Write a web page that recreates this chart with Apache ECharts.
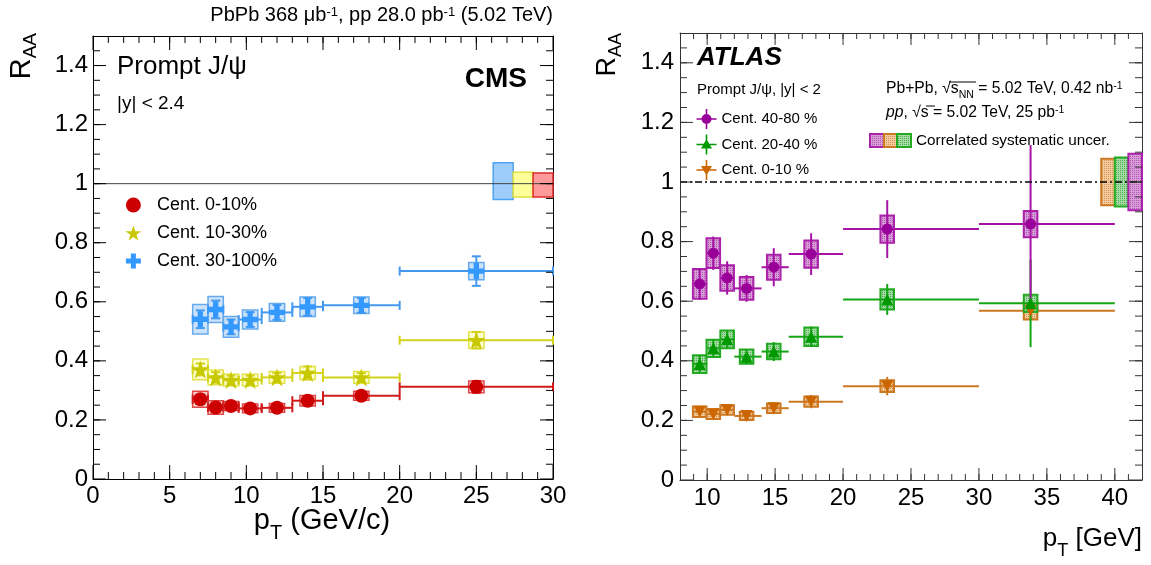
<!DOCTYPE html>
<html>
<head>
<meta charset="utf-8">
<script src="https://cdn.jsdelivr.net/npm/echarts@6/dist/echarts.min.js"></script>
<style>
  html, body { margin: 0; padding: 0; background: #fff; }
  #chart { width: 1151px; height: 565px; }
</style>
</head>
<body>
<div id="chart"></div>
<script>
// ---------- CMS: prompt J/psi R_AA vs pT, |y| < 2.4 ----------
const cmsPt       = [7, 8, 9, 10.25, 12, 14, 17.5, 25];
const cmsBinLow   = [6.5, 7.5, 8.5, 9.5, 11, 13, 15, 20];
const cmsBinHigh  = [7.5, 8.5, 9.5, 11, 13, 15, 20, 30];

const cmsRaa0to10    = [0.270, 0.242, 0.247, 0.239, 0.241, 0.265, 0.282, 0.312];
const cmsStat0to10   = [0.015, 0.013, 0.012, 0.012, 0.012, 0.015, 0.012, 0.020];
const cmsSyst0to10   = [0.027, 0.023, 0.015, 0.015, 0.015, 0.018, 0.015, 0.020];

const cmsRaa10to30   = [0.371, 0.344, 0.335, 0.335, 0.344, 0.359, 0.344, 0.470];
const cmsStat10to30  = [0.020, 0.018, 0.015, 0.015, 0.015, 0.022, 0.015, 0.028];
const cmsSyst10to30  = [0.035, 0.025, 0.020, 0.020, 0.020, 0.022, 0.020, 0.028];

const cmsRaa30to100  = [0.541, 0.574, 0.515, 0.540, 0.564, 0.583, 0.588, 0.704];
const cmsStat30to100 = [0.030, 0.030, 0.025, 0.025, 0.025, 0.030, 0.025, 0.050];
const cmsSyst30to100 = [0.050, 0.044, 0.035, 0.032, 0.030, 0.033, 0.028, 0.029];

// global uncertainty boxes at R_AA = 1 (30-100%, 10-30%, 0-10%)
const cmsGlobalXLow  = [26.1, 27.4, 28.7];
const cmsGlobalXHigh = [27.4, 28.7, 30.0];
const cmsGlobalLow   = [0.946, 0.955, 0.955];
const cmsGlobalHigh  = [1.071, 1.039, 1.036];

const cmsXTicks = [0, 5, 10, 15, 20, 25, 30];

// ---------- ATLAS: prompt J/psi R_AA vs pT, |y| < 2 ----------
const atlasPt      = [9.45, 10.45, 11.47, 12.9, 14.9, 17.65, 23.25, 33.8];
const atlasBinLow  = [9, 10, 11, 12, 14, 16, 20, 30];
const atlasBinHigh = [10, 11, 12, 14, 16, 20, 30, 40];

const atlasRaa40to80  = [0.658, 0.761, 0.678, 0.643, 0.714, 0.758, 0.842, 0.859];
const atlasStat40to80 = [0.053, 0.056, 0.056, 0.045, 0.064, 0.070, 0.097, 0.265];
const atlasSyst40to80 = [0.050, 0.050, 0.043, 0.038, 0.042, 0.046, 0.046, 0.044];

const atlasRaa20to40  = [0.389, 0.442, 0.472, 0.414, 0.431, 0.481, 0.606, 0.593];
const atlasStat20to40 = [0.030, 0.030, 0.030, 0.025, 0.032, 0.034, 0.052, 0.147];
const atlasSyst20to40 = [0.030, 0.029, 0.030, 0.024, 0.026, 0.031, 0.034, 0.029];

const atlasRaa0to10   = [0.229, 0.221, 0.235, 0.215, 0.241, 0.263, 0.315, 0.568];
const atlasStat0to10  = [0.015, 0.015, 0.015, 0.012, 0.020, 0.022, 0.031, 0.030];
const atlasSyst0to10  = [0.018, 0.016, 0.016, 0.014, 0.016, 0.017, 0.020, 0.029];

// correlated uncertainty boxes at R_AA = 1 (0-10%, 20-40%, 40-80%)
const atlasGlobalXLow  = [39, 40, 41];
const atlasGlobalXHigh = [40, 41, 42];
const atlasGlobalLow   = [0.922, 0.918, 0.905];
const atlasGlobalHigh  = [1.078, 1.082, 1.095];

const atlasXTicks = [10, 15, 20, 25, 30, 35, 40];
const raaTicks = [0, 0.2, 0.4, 0.6, 0.8, 1, 1.2, 1.4];
const unity = 1;

// ---------- helpers ----------
const FONT = "'Liberation Sans', Arial, Helvetica, sans-serif";

function starPath() {
  const pts = [];
  for (let k = 0; k < 10; k++) {
    const a = -Math.PI / 2 + k * Math.PI / 5;
    const r = k % 2 === 0 ? 10 : 3.9;
    pts.push((r * Math.cos(a)).toFixed(3) + ',' + (r * Math.sin(a)).toFixed(3));
  }
  return 'path://M' + pts.join('L') + 'Z';
}
const STAR = starPath();
const CROSS = 'path://M-2.5,-7.5H2.5V-2.5H7.5V2.5H2.5V7.5H-2.5V2.5H-7.5V-2.5H-2.5Z';
const BARS = 'M-10,-0.8H10V0.8H-10Z M-0.8,-10H0.8V10H-0.8Z ';
const ICON_CIRCLE = 'path://' + BARS + 'M-5,0A5,5 0 1,1 5,0A5,5 0 1,1 -5,0Z';
const ICON_TRI = 'path://' + BARS + 'M0,-5.5L5.5,4L-5.5,4Z';
const ICON_TRI_DOWN = 'path://' + BARS + 'M-5.5,-4L5.5,-4L0,5.5Z';

// fine cross-hatch fill used for the ATLAS systematic boxes
function hatch(light, dark) {
  const c = document.createElement('canvas');
  c.width = 4; c.height = 4;
  const g = c.getContext('2d');
  g.fillStyle = light; g.fillRect(0, 0, 4, 4);
  g.fillStyle = dark;
  g.fillRect(0, 0, 1, 1); g.fillRect(2, 2, 1, 1);
  g.fillRect(2, 0, 1, 1); g.fillRect(0, 2, 1, 1);
  return { image: c, repeat: 'repeat' };
}
const PURPLE_FILL = hatch('#d89ed8', '#b055b0');
const GREEN_FILL = hatch('#a6daa6', '#4caf4c');
const ORANGE_FILL = hatch('#f2cc9e', '#d99550');

function rows(pt, val, lo, hi, stat, syst) {
  return pt.map((p, i) => [p, val[i], lo[i], hi[i], stat[i], syst[i]]);
}

// stat. error bars (lines) + syst. box for each point
function errorSeries(axis, data, st) {
  return {
    type: 'custom',
    xAxisIndex: axis, yAxisIndex: axis,
    silent: true, z: 2,
    data: data,
    renderItem: function (params, api) {
      const x = api.value(0), y = api.value(1), xl = api.value(2), xh = api.value(3);
      const s = api.value(4), sy = api.value(5), hw = st.boxHalf;
      const c = api.coord([x, y]);
      const l = api.coord([xl, y]);
      const r = api.coord([xh, y]);
      const t = api.coord([x, y + s]);
      const b = api.coord([x, y - s]);
      const b0 = api.coord([x - hw, y + sy]);
      const b1 = api.coord([x + hw, y - sy]);
      const lineStyle = { stroke: st.line, lineWidth: st.lineWidth };
      const children = [
        { type: 'rect', shape: { x: b0[0], y: b0[1], width: b1[0] - b0[0], height: b1[1] - b0[1] },
          style: { fill: st.boxFill, stroke: st.boxStroke, lineWidth: st.boxLine } },
        { type: 'line', shape: { x1: l[0], y1: c[1], x2: r[0], y2: c[1] }, style: lineStyle },
        { type: 'line', shape: { x1: c[0], y1: t[1], x2: c[0], y2: b[1] }, style: lineStyle }
      ];
      if (st.caps) {
        const k = st.caps;
        children.push(
          { type: 'line', shape: { x1: l[0], y1: c[1] - k, x2: l[0], y2: c[1] + k }, style: lineStyle },
          { type: 'line', shape: { x1: r[0], y1: c[1] - k, x2: r[0], y2: c[1] + k }, style: lineStyle },
          { type: 'line', shape: { x1: c[0] - k, y1: t[1], x2: c[0] + k, y2: t[1] }, style: lineStyle },
          { type: 'line', shape: { x1: c[0] - k, y1: b[1], x2: c[0] + k, y2: b[1] }, style: lineStyle }
        );
      }
      return { type: 'group', children: children };
    }
  };
}

function globalSeries(axis, xl, xh, lo, hi, fills, strokes, lw) {
  return {
    type: 'custom',
    xAxisIndex: axis, yAxisIndex: axis,
    silent: true, z: 2,
    data: xl.map((v, i) => [v, xh[i], lo[i], hi[i]]),
    renderItem: function (params, api) {
      const p0 = api.coord([api.value(0), api.value(3)]);
      const p1 = api.coord([api.value(1), api.value(2)]);
      return { type: 'rect', shape: { x: p0[0], y: p0[1], width: p1[0] - p0[0], height: p1[1] - p0[1] },
               style: { fill: fills[params.dataIndex], stroke: strokes[params.dataIndex], lineWidth: lw } };
    }
  };
}

function markerSeries(axis, name, pt, val, symbol, size, color, rotate) {
  return {
    type: 'scatter', name: name,
    xAxisIndex: axis, yAxisIndex: axis,
    symbol: symbol, symbolSize: size, symbolRotate: rotate || 0,
    itemStyle: { color: color, opacity: 1 },
    z: 3, silent: true,
    data: pt.map((p, i) => [p, val[i]])
  };
}

// inward tick marks on all four sides of a frame (major + minor)
function tickMarks(xMajor, xMinor, yMajor, yMinor, step) {
  const out = [];
  xMinor.forEach(v => out.push([v, 0, step.xMinor]));
  xMajor.forEach(v => out.push([v, 0, step.xMajor]));
  yMinor.forEach(v => out.push([v, 1, step.yMinor]));
  yMajor.forEach(v => out.push([v, 1, step.yMajor]));
  return out;
}
function minorValues(lo, hi, d) {
  const out = [];
  for (let i = 1; lo + i * d < hi - 1e-9; i++) out.push(+(lo + i * d).toFixed(4));
  return out;
}
function tickSeries(axis, ext, data, color) {
  return {
    type: 'custom',
    xAxisIndex: axis, yAxisIndex: axis,
    silent: true, z: 5, clip: false,
    data: data,
    renderItem: function (params, api) {
      const v = api.value(0), isY = api.value(1), len = api.value(2);
      const style = { stroke: color, lineWidth: 1 };
      if (!isY) {
        const a = api.coord([v, ext.y0]), b = api.coord([v, ext.y1]);
        return { type: 'group', children: [
          { type: 'line', shape: { x1: a[0], y1: a[1], x2: a[0], y2: a[1] - len }, style: style },
          { type: 'line', shape: { x1: b[0], y1: b[1], x2: b[0], y2: b[1] + len }, style: style } ] };
      }
      const a = api.coord([ext.x0, v]), b = api.coord([ext.x1, v]);
      return { type: 'group', children: [
        { type: 'line', shape: { x1: a[0], y1: a[1], x2: a[0] + len, y2: a[1] }, style: style },
        { type: 'line', shape: { x1: b[0], y1: b[1], x2: b[0] - len, y2: b[1] }, style: style } ] };
    }
  };
}

function frameAxis(extra, color) {
  return Object.assign({
    type: 'value',
    splitLine: { show: false },
    axisLine: { show: true, onZero: false, lineStyle: { color: color, width: 1 } },
    axisTick: { show: false },
    minorTick: { show: false },
    axisLabel: { show: false }
  }, extra);
}
const tickLabel = { show: true, fontSize: 24, color: '#000', fontFamily: FONT };

const cmsExt = { x0: 0, x1: 30, y0: 0, y1: 1.5 };
const atlasExt = { x0: 8, x1: 42, y0: 0, y1: 1.5 };

const chart = echarts.init(document.getElementById('chart'), null, { renderer: 'canvas' });

const option = {
  animation: false,
  backgroundColor: '#ffffff',
  grid: [
    { left: 93, top: 36, width: 460, height: 443 },
    { left: 680, top: 33, width: 462, height: 447 }
  ],
  xAxis: [
    frameAxis({ gridIndex: 0, position: 'bottom', min: cmsExt.x0, max: cmsExt.x1, interval: 5,
      axisLabel: Object.assign({ margin: 5, customValues: cmsXTicks }, tickLabel) }, '#000'),
    frameAxis({ gridIndex: 0, position: 'top', min: cmsExt.x0, max: cmsExt.x1, interval: 5 }, '#000'),
    frameAxis({ gridIndex: 1, position: 'bottom', min: atlasExt.x0, max: atlasExt.x1, interval: 1,
      axisLabel: Object.assign({ margin: 6, customValues: atlasXTicks }, tickLabel) }, '#333'),
    frameAxis({ gridIndex: 1, position: 'top', min: atlasExt.x0, max: atlasExt.x1, interval: 1 }, '#333')
  ],
  yAxis: [
    frameAxis({ gridIndex: 0, position: 'left', min: 0, max: 1.5, interval: 0.2,
      axisLabel: Object.assign({ margin: 5, showMaxLabel: false }, tickLabel) }, '#000'),
    frameAxis({ gridIndex: 0, position: 'right', min: 0, max: 1.5, interval: 0.2 }, '#000'),
    frameAxis({ gridIndex: 1, position: 'left', min: 0, max: 1.5, interval: 0.2,
      axisLabel: Object.assign({ margin: 6, showMaxLabel: false }, tickLabel) }, '#333'),
    frameAxis({ gridIndex: 1, position: 'right', min: 0, max: 1.5, interval: 0.2 }, '#333')
  ],
  legend: [
    {
      data: [
        { name: 'Cent. 0-10%', icon: 'circle' },
        { name: 'Cent. 10-30%', icon: STAR },
        { name: 'Cent. 30-100%', icon: CROSS }
      ],
      orient: 'vertical', left: 120.5, top: 191,
      itemWidth: 37, itemHeight: 15, itemGap: 10,
      selectedMode: false,
      textStyle: { fontSize: 18, color: '#000', fontFamily: FONT }
    },
    {
      data: [
        { name: 'Cent. 40-80 %', icon: ICON_CIRCLE },
        { name: 'Cent. 20-40 %', icon: ICON_TRI },
        { name: 'Cent. 0-10 %', icon: ICON_TRI_DOWN }
      ],
      orient: 'vertical', left: 691.5, top: 104,
      itemWidth: 20, itemHeight: 20, itemGap: 5.5,
      selectedMode: false,
      textStyle: { fontSize: 15, color: '#000', fontFamily: FONT }
    }
  ],
  series: [
    // CMS frame ticks
    tickSeries(0, cmsExt, tickMarks(cmsXTicks, minorValues(0, 30, 1), raaTicks, minorValues(0, 1.5, 0.05),
      { xMajor: 14, xMinor: 7, yMajor: 13, yMinor: 7 }), '#000'),
    // CMS reference line and global uncertainties
    { type: 'line', xAxisIndex: 0, yAxisIndex: 0, data: [[cmsExt.x0, unity], [cmsExt.x1, unity]], symbol: 'none',
      lineStyle: { color: '#444', width: 1 }, z: 4, silent: true },
    globalSeries(0, cmsGlobalXLow, cmsGlobalXHigh, cmsGlobalLow, cmsGlobalHigh,
      ['#9fcdfb', '#ffff99', '#ff9a9a'], ['#4fa3ee', '#e0e040', '#dd2b2b'], 1.5),
    // CMS points
    errorSeries(0, rows(cmsPt, cmsRaa0to10, cmsBinLow, cmsBinHigh, cmsStat0to10, cmsSyst0to10),
      { line: '#d11a1a', lineWidth: 2, caps: 4.5, boxHalf: 0.5, boxFill: 'rgba(230,100,100,0.28)', boxStroke: '#e04848', boxLine: 1.5 }),
    errorSeries(0, rows(cmsPt, cmsRaa10to30, cmsBinLow, cmsBinHigh, cmsStat10to30, cmsSyst10to30),
      { line: '#d2d21a', lineWidth: 2, caps: 4.5, boxHalf: 0.5, boxFill: 'rgba(250,250,130,0.4)', boxStroke: '#e2e24a', boxLine: 1.5 }),
    errorSeries(0, rows(cmsPt, cmsRaa30to100, cmsBinLow, cmsBinHigh, cmsStat30to100, cmsSyst30to100),
      { line: '#4499ee', lineWidth: 2, caps: 4.5, boxHalf: 0.5, boxFill: 'rgba(120,180,240,0.38)', boxStroke: '#66aaee', boxLine: 1.5 }),
    markerSeries(0, 'Cent. 0-10%', cmsPt, cmsRaa0to10, 'circle', 14, '#cc0000'),
    markerSeries(0, 'Cent. 10-30%', cmsPt, cmsRaa10to30, STAR, 18, '#c8c800'),
    markerSeries(0, 'Cent. 30-100%', cmsPt, cmsRaa30to100, CROSS, 16, '#3399ff'),

    // ATLAS frame ticks
    tickSeries(2, atlasExt, tickMarks(atlasXTicks, minorValues(8, 42, 1), raaTicks, minorValues(0, 1.5, 0.05),
      { xMajor: 12, xMinor: 6, yMajor: 13, yMinor: 7 }), '#333'),
    // ATLAS reference line and correlated uncertainties
    globalSeries(2, atlasGlobalXLow, atlasGlobalXHigh, atlasGlobalLow, atlasGlobalHigh,
      [ORANGE_FILL, GREEN_FILL, PURPLE_FILL], ['#cc7722', '#22aa22', '#aa22aa'], 2),
    { type: 'line', xAxisIndex: 2, yAxisIndex: 2, data: [[atlasExt.x0, unity], [atlasExt.x1, unity]], symbol: 'none',
      lineStyle: { color: '#000', width: 1.5, type: [7, 3, 2, 3] }, z: 4, silent: true },
    // ATLAS points
    errorSeries(2, rows(atlasPt, atlasRaa0to10, atlasBinLow, atlasBinHigh, atlasStat0to10, atlasSyst0to10),
      { line: '#cc7722', lineWidth: 2, caps: 0, boxHalf: 0.5, boxFill: ORANGE_FILL, boxStroke: '#cc7722', boxLine: 2 }),
    errorSeries(2, rows(atlasPt, atlasRaa20to40, atlasBinLow, atlasBinHigh, atlasStat20to40, atlasSyst20to40),
      { line: '#14a514', lineWidth: 2, caps: 0, boxHalf: 0.5, boxFill: GREEN_FILL, boxStroke: '#22aa22', boxLine: 2 }),
    errorSeries(2, rows(atlasPt, atlasRaa40to80, atlasBinLow, atlasBinHigh, atlasStat40to80, atlasSyst40to80),
      { line: '#a514a5', lineWidth: 2, caps: 0, boxHalf: 0.5, boxFill: PURPLE_FILL, boxStroke: '#aa22aa', boxLine: 2 }),
    markerSeries(2, 'Cent. 0-10 %', atlasPt, atlasRaa0to10, 'triangle', 12, '#cc6600', 180),
    markerSeries(2, 'Cent. 20-40 %', atlasPt, atlasRaa20to40, 'triangle', 12, '#009900'),
    markerSeries(2, 'Cent. 40-80 %', atlasPt, atlasRaa40to80, 'circle', 11, '#990099')
  ],
  graphic: [
    // CMS labels
    { type: 'text', x: 553, y: 17, silent: true,
      style: { text: '{n|PbPb 368 μb}{u|-1}{n|, pp 28.0 pb}{u|-1}{n| (5.02 TeV)}',
        align: 'right', verticalAlign: 'middle', fill: '#000',
        rich: { n: { fontSize: 20, lineHeight: 23, fontFamily: FONT, verticalAlign: 'top' },
                u: { fontSize: 13, lineHeight: 13, fontFamily: FONT, verticalAlign: 'top' } } } },
    { type: 'text', x: 117, y: 67, silent: true,
      style: { text: 'Prompt J/ψ', fontSize: 26, fontFamily: FONT, fill: '#000', align: 'left', verticalAlign: 'middle' } },
    { type: 'text', x: 117, y: 104, silent: true,
      style: { text: '|y| < 2.4', fontSize: 19, fontFamily: FONT, fill: '#000', align: 'left', verticalAlign: 'middle' } },
    { type: 'text', x: 527, y: 79, silent: true,
      style: { text: 'CMS', fontSize: 28, fontWeight: 'bold', fontFamily: FONT, fill: '#000', align: 'right', verticalAlign: 'middle' } },
    { type: 'text', x: 22, y: 33, rotation: Math.PI / 2, silent: true,
      style: { text: '{r|R}{s|AA}', align: 'right', verticalAlign: 'middle', fill: '#000',
        rich: { r: { fontSize: 29, lineHeight: 30, fontFamily: FONT, verticalAlign: 'top' },
                s: { fontSize: 19, lineHeight: 19, padding: [14, 0, 0, 0], fontFamily: FONT, verticalAlign: 'top' } } } },
    { type: 'text', x: 322, y: 522, silent: true,
      style: { text: '{p|p}{t|T}{p| (GeV/c)}', align: 'center', verticalAlign: 'middle', fill: '#000',
        rich: { p: { fontSize: 29, lineHeight: 31, fontFamily: FONT, verticalAlign: 'top' },
                t: { fontSize: 20, lineHeight: 20, padding: [17, 0, 0, 0], fontFamily: FONT, verticalAlign: 'top' } } } },

    // ATLAS labels
    { type: 'text', x: 697, y: 58, silent: true,
      style: { text: 'ATLAS', fontSize: 26, fontWeight: 'bold', fontStyle: 'italic', fontFamily: FONT, fill: '#000', align: 'left', verticalAlign: 'middle' } },
    { type: 'text', x: 697, y: 90, silent: true,
      style: { text: 'Prompt J/ψ, |y| < 2', fontSize: 15, fontFamily: FONT, fill: '#000', align: 'left', verticalAlign: 'middle' } },
    { type: 'text', x: 886, y: 90, silent: true,
      style: { text: '{n|Pb+Pb, √s}{b|NN}{n| = 5.02 TeV, 0.42 nb}{u|-1}', align: 'left', verticalAlign: 'middle', fill: '#000',
        rich: { n: { fontSize: 15.7, lineHeight: 18, fontFamily: FONT, verticalAlign: 'top' },
                b: { fontSize: 10.5, lineHeight: 10, padding: [9, 0, 0, 0], fontFamily: FONT, verticalAlign: 'top' },
                u: { fontSize: 10.5, lineHeight: 10, fontFamily: FONT, verticalAlign: 'top' } } } },
    { type: 'line', silent: true, shape: { x1: 949, y1: 82, x2: 976, y2: 82 }, style: { stroke: '#000', lineWidth: 1 } },
    { type: 'text', x: 886, y: 114, silent: true,
      style: { text: '{i|pp}{n|, √s = 5.02 TeV, 25 pb}{u|-1}', align: 'left', verticalAlign: 'middle', fill: '#000',
        rich: { i: { fontSize: 15.7, lineHeight: 18, fontStyle: 'italic', fontFamily: FONT, verticalAlign: 'top' },
                n: { fontSize: 15.7, lineHeight: 18, fontFamily: FONT, verticalAlign: 'top' },
                u: { fontSize: 10.5, lineHeight: 10, fontFamily: FONT, verticalAlign: 'top' } } } },
    { type: 'line', silent: true, shape: { x1: 926, y1: 106, x2: 935, y2: 106 }, style: { stroke: '#000', lineWidth: 1 } },
    { type: 'rect', silent: true, shape: { x: 870, y: 134, width: 14, height: 13 }, style: { fill: PURPLE_FILL, stroke: '#aa22aa', lineWidth: 2 } },
    { type: 'rect', silent: true, shape: { x: 884, y: 134, width: 13, height: 13 }, style: { fill: ORANGE_FILL, stroke: '#cc7722', lineWidth: 2 } },
    { type: 'rect', silent: true, shape: { x: 897, y: 134, width: 14, height: 13 }, style: { fill: GREEN_FILL, stroke: '#22aa22', lineWidth: 2 } },
    { type: 'text', x: 916, y: 141, silent: true,
      style: { text: 'Correlated systematic uncer.', fontSize: 15.3, fontFamily: FONT, fill: '#000', align: 'left', verticalAlign: 'middle' } },
    { type: 'text', x: 608, y: 33, rotation: Math.PI / 2, silent: true,
      style: { text: '{r|R}{s|AA}', align: 'right', verticalAlign: 'middle', fill: '#000',
        rich: { r: { fontSize: 27, lineHeight: 28, fontFamily: FONT, verticalAlign: 'top' },
                s: { fontSize: 18, lineHeight: 18, padding: [13, 0, 0, 0], fontFamily: FONT, verticalAlign: 'top' } } } },
    { type: 'text', x: 1142, y: 540, silent: true,
      style: { text: '{p|p}{t|T}{p| [GeV]}', align: 'right', verticalAlign: 'middle', fill: '#000',
        rich: { p: { fontSize: 26, lineHeight: 28, fontFamily: FONT, verticalAlign: 'top' },
                t: { fontSize: 18, lineHeight: 18, padding: [16, 0, 0, 0], fontFamily: FONT, verticalAlign: 'top' } } } }
  ]
};

chart.setOption(option);
</script>
</body>
</html>
